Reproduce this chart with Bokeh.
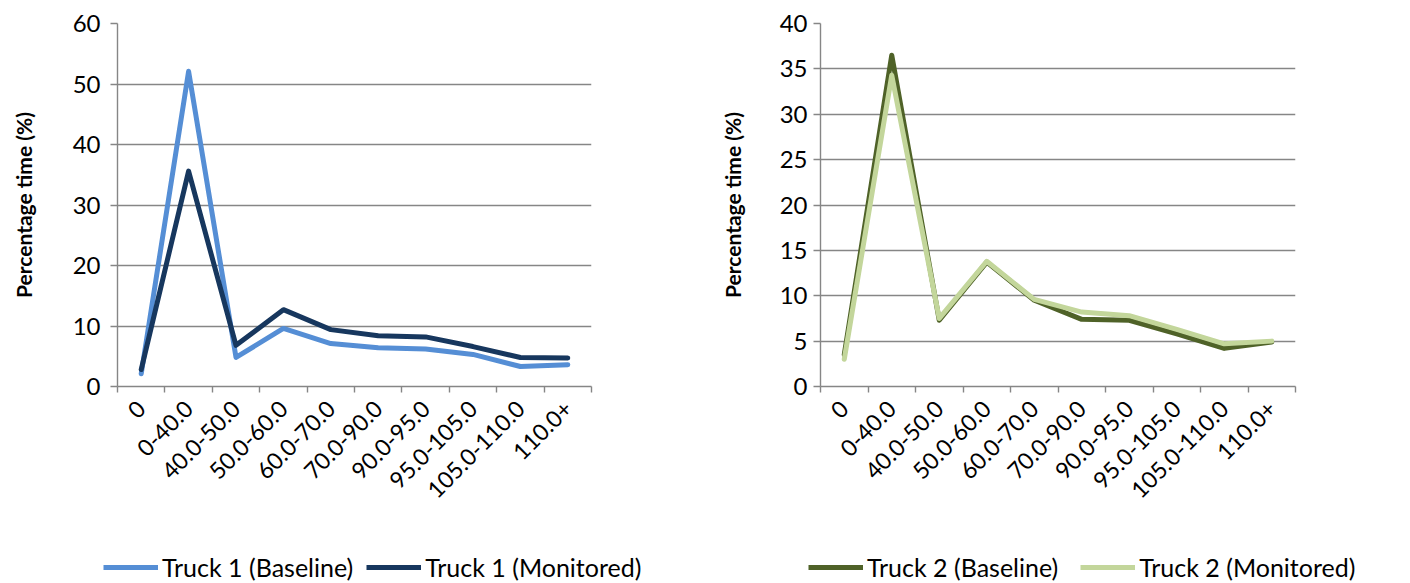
from math import pi
from bokeh.plotting import figure
from bokeh.models import Range1d, FixedTicker, Legend, LegendItem
from bokeh.layouts import row, column
from bokeh.embed import file_html
from bokeh.resources import INLINE

categories = ["0", "0-40.0", "40.0-50.0", "50.0-60.0", "60.0-70.0", "70.0-90.0",
              "90.0-95.0", "95.0-105.0", "105.0-110.0", "110.0+"]
truck1_baseline = [2.1, 52.1, 4.8, 9.6, 7.1, 6.4, 6.2, 5.3, 3.3, 3.6]
truck1_monitored = [2.8, 35.6, 6.8, 12.7, 9.4, 8.4, 8.2, 6.6, 4.8, 4.7]
truck2_baseline = [3.5, 36.5, 7.3, 13.7, 9.5, 7.4, 7.3, 5.8, 4.2, 4.9]
truck2_monitored = [3.0, 34.3, 7.5, 13.8, 9.6, 8.2, 7.8, 6.3, 4.7, 5.0]

FONT = "Lato"
GRID = "#868686"
LEG_H = 36


def make_chart(series, ymax, ystep, width, height, left, right, top, bottom,
               tick_standoff, label_standoff):
    p = figure(width=width, height=height, output_backend="svg",
               toolbar_location=None, x_range=Range1d(0, len(categories)),
               y_range=Range1d(0, ymax))
    p.min_border_left = left
    p.min_border_right = right
    p.min_border_top = top
    p.min_border_bottom = bottom
    p.outline_line_color = None
    p.xgrid.grid_line_color = None
    p.ygrid.grid_line_color = GRID
    p.ygrid.grid_line_width = 1.4
    p.ygrid.ticker = FixedTicker(ticks=list(range(0, ymax + 1, ystep)))

    xs = [i + 0.5 for i in range(len(categories))]
    for name, vals, color in series:
        p.line(xs, vals, line_color=color, line_width=5, line_join="round",
               line_cap="round")

    xa = p.xaxis[0]
    xa.ticker = FixedTicker(ticks=xs, minor_ticks=list(range(len(categories) + 1)))
    xa.major_label_overrides = {x: c for x, c in zip(xs, categories)}
    xa.major_tick_in = 0
    xa.major_tick_out = 0
    xa.minor_tick_in = 0
    xa.minor_tick_out = 6
    xa.minor_tick_line_color = GRID
    xa.minor_tick_line_width = 1.4
    xa.axis_line_color = GRID
    xa.axis_line_width = 1.4
    xa.major_label_orientation = pi / 4
    xa.major_label_text_font = FONT
    xa.major_label_text_font_size = "23px"
    xa.major_label_text_color = "#000000"
    xa.major_label_standoff = 12

    ya = p.yaxis[0]
    ya.ticker = FixedTicker(ticks=list(range(0, ymax + 1, ystep)))
    ya.minor_tick_line_color = None
    ya.major_tick_in = 0
    ya.major_tick_out = 7
    ya.major_tick_line_color = GRID
    ya.major_tick_line_width = 1.4
    ya.axis_line_color = GRID
    ya.axis_line_width = 1.4
    ya.major_label_text_font = FONT
    ya.major_label_text_font_size = "24px"
    ya.major_label_text_color = "#000000"
    ya.major_label_standoff = tick_standoff
    ya.axis_label = "Percentage time (%)"
    ya.axis_label_text_font = FONT
    ya.axis_label_text_font_size = "21px"
    ya.axis_label_text_font_style = "bold"
    ya.axis_label_text_color = "#000000"
    ya.axis_label_standoff = label_standoff
    return p


def make_legend(series, width, legend_x, spacing):
    lp = figure(width=width, height=LEG_H, output_backend="svg",
                toolbar_location=None, x_axis_type=None, y_axis_type=None,
                x_range=Range1d(0, 1), y_range=Range1d(0, 1), min_border=0)
    lp.outline_line_color = None
    lp.grid.grid_line_color = None
    xs = [i + 0.5 for i in range(len(categories))]
    items = []
    for name, vals, color in series:
        r = lp.line(xs, vals, line_color=color, line_width=5, visible=False)
        items.append(LegendItem(label=name, renderers=[r]))
    legend = Legend(items=items, orientation="horizontal", location=(legend_x, 1))
    legend.border_line_color = None
    legend.background_fill_alpha = 0
    legend.inactive_fill_alpha = 0
    legend.label_text_font = FONT
    legend.label_text_font_size = "25px"
    legend.label_text_color = "#000000"
    legend.glyph_width = 55
    legend.glyph_height = 30
    legend.label_height = 30
    legend.label_standoff = 4
    legend.spacing = spacing
    legend.padding = 0
    legend.margin = 0
    lp.add_layout(legend, "center")
    return lp


s1 = [("Truck 1 (Baseline)", truck1_baseline, "#558ed5"),
      ("Truck 1 (Monitored)", truck1_monitored, "#17375e")]
s2 = [("Truck 2 (Baseline)", truck2_baseline, "#4f6228"),
      ("Truck 2 (Monitored)", truck2_monitored, "#c3d69b")]

p1 = make_chart(s1, 60, 10, width=700, height=547, left=117, right=109, top=23,
                bottom=161, tick_standoff=10, label_standoff=34)
p2 = make_chart(s2, 40, 5, width=710, height=547, left=120, right=115, top=23,
                bottom=156, tick_standoff=6, label_standoff=32)
l1 = make_legend(s1, 700, 103, 13)
l2 = make_legend(s2, 710, 108, 22)

layout = column(row(p1, p2, spacing=0), row(l1, l2, spacing=0), spacing=0)
open("out.html", "w").write(file_html(layout, INLINE))
